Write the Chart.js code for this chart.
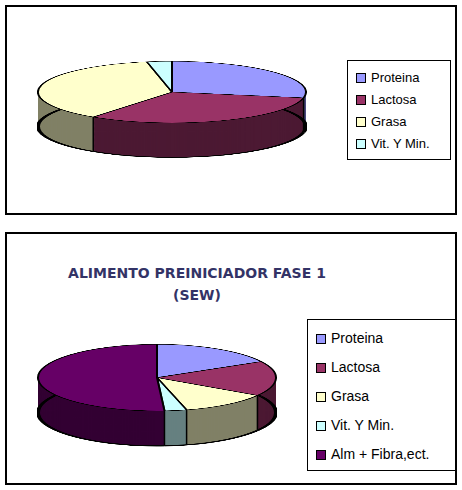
<!DOCTYPE html>
<html><head><meta charset="utf-8">
<script src="https://cdn.jsdelivr.net/npm/chart.js@4/dist/chart.umd.min.js"></script>
<style>
body{margin:0;background:#fff;width:462px;height:490px;position:relative;font-family:"Liberation Sans",Arial,sans-serif;overflow:hidden}
.panel{position:absolute;border:2px solid #000;background:#fff;overflow:hidden}
.cw{position:absolute;transform-origin:0 0}
.legend{position:absolute;border:1px solid #000;background:#fff;color:#000}
.legend div{display:flex;align-items:center;white-space:nowrap}
.legend span{display:inline-block;border:1px solid #000;margin-right:5px}
.title{position:absolute;left:0;width:380px;text-align:center;font-family:"DejaVu Sans",Verdana,sans-serif;font-weight:bold;font-size:14px;color:#333366;line-height:22px}
</style></head><body>
<div class="panel" style="left:5px;top:5px;width:448px;height:206px">
  <div class="cw" id="w1" style="left:30px;top:54px;width:270px;height:440px;transform:scaleY(0.23)"><canvas id="c1" width="270" height="440" style="width:270px;height:440px"></canvas></div>
  <div class="legend" id="l1" style="left:340px;top:53px;width:104px;height:100px;font-size:13px;padding:6px 0 0 8px;box-sizing:border-box;line-height:22px"></div>
</div>
<div class="panel" style="left:5px;top:232px;width:448px;height:249px">
  <div class="title" style="top:28px">ALIMENTO PREINICIADOR FASE 1<br>(SEW)</div>
  <div class="cw" id="w2" style="left:30px;top:110px;width:240px;height:420px;transform:scaleY(0.28)"><canvas id="c2" width="240" height="420" style="width:240px;height:420px"></canvas></div>
  <div class="legend" id="l2" style="left:300px;top:85px;width:152px;height:152px;font-size:14px;padding:4px 0 0 8px;box-sizing:border-box;line-height:29px"></div>
</div>
<script>
const labels1=["Proteina","Lactosa","Grasa","Vit. Y Min."];
const values1=[28,32,37,3];
const labels2=["Proteina","Lactosa","Grasa","Vit. Y Min.","Alm + Fibra,ect."];
const values2=[17,17,12,3,51];
const topColors=["#9999FF","#993366","#FFFFCC","#CCFFFF","#660066"];
const sideColors=["#4C4C80","#4C1933","#808066","#668080","#330033"];

function depthPlugin(depth){return{id:'depth',beforeDatasetsDraw(chart){
  const ctx=chart.ctx,meta=chart.getDatasetMeta(0);
  for(let d=depth;d>0;d-=2){meta.data.forEach((a,i)=>{
    ctx.beginPath();ctx.moveTo(a.x,a.y+d);ctx.arc(a.x,a.y+d,a.outerRadius,a.startAngle,a.endAngle);ctx.closePath();
    ctx.fillStyle=sideColors[i];ctx.fill();});}
  meta.data.forEach((a,i)=>{ctx.beginPath();ctx.arc(a.x,a.y+depth,a.outerRadius,a.startAngle,a.endAngle);ctx.strokeStyle="#000";ctx.lineWidth=4;ctx.stroke();
    const t=a.startAngle,px=a.x+a.outerRadius*Math.cos(t),py=a.y+a.outerRadius*Math.sin(t);
    if(Math.sin(t)>0){ctx.beginPath();ctx.moveTo(px,py);ctx.lineTo(px,py+depth);ctx.lineWidth=1.5;ctx.stroke();}});
}}}
function make(id,lid,labels,values,padB,depth){
  const cv=document.getElementById(id);
  new Chart(cv,{type:'pie',data:{labels,datasets:[{data:values,backgroundColor:topColors.slice(0,values.length),borderColor:"#000",borderWidth:2}]},
    options:{responsive:false,animation:false,layout:{padding:{bottom:padB}},plugins:{legend:{display:false},tooltip:{enabled:false}}},
    plugins:[depthPlugin(depth)]});
  const L=document.getElementById(lid);
  labels.forEach((t,i)=>{const d=document.createElement('div');d.innerHTML='<span style="width:8px;height:8px;background:'+topColors[i]+'"></span>'+t;L.appendChild(d);});
}
make('c1','l1',labels1,values1,170,150);
make('c2','l2',labels2,values2,180,125);
</script></body></html>
